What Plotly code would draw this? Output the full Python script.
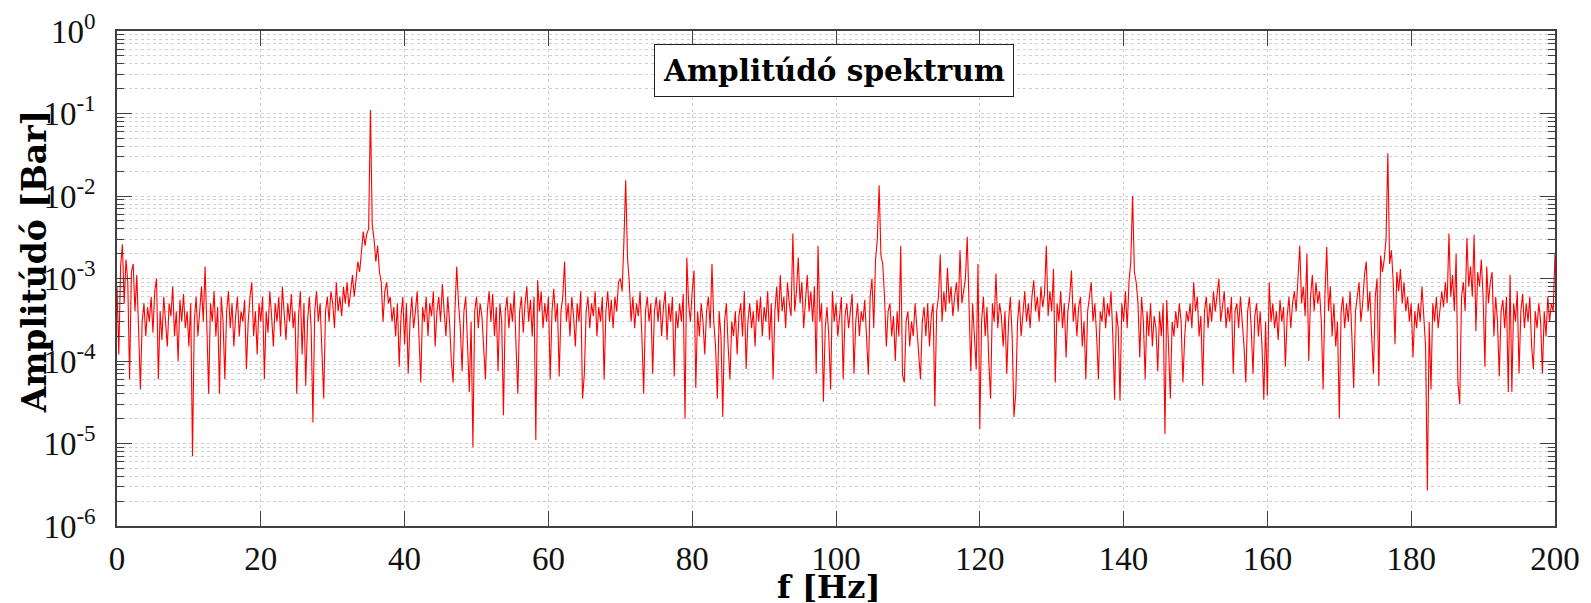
import plotly.graph_objects as go

# Amplitude spectrum [Bar], one value per 0.25 Hz bin
amp_0_50 = [
    8e-4, 1.2e-4, 14e-4, 26e-4, 5e-4, 17e-4, 9e-4, 0.6e-4, 12e-4, 15e-4, 4e-4, 11e-4, 2.5e-4, 0.45e-4, 3e-4, 5e-4, 2e-4, 4.5e-4, 3e-4, 6e-4,
    2.2e-4, 7e-4, 10e-4, 0.6e-4, 4e-4, 1.8e-4, 6e-4, 3e-4, 1.5e-4, 5e-4, 3.5e-4, 8e-4, 2e-4, 4e-4, 1e-4, 5.5e-4, 3e-4, 6.5e-4, 2.5e-4, 4e-4,
    1.5e-4, 5e-4, 0.07e-4, 3e-4, 6e-4, 2e-4, 4e-4, 8e-4, 3e-4, 14e-4, 2.5e-4, 0.4e-4, 5e-4, 3e-4, 7e-4, 2e-4, 4.5e-4, 0.4e-4, 6e-4, 3e-4,
    0.6e-4, 4e-4, 7e-4, 2.5e-4, 5e-4, 1.5e-4, 3.5e-4, 6e-4, 2e-4, 4e-4, 3e-4, 5.5e-4, 0.8e-4, 3e-4, 6e-4, 9e-4, 2e-4, 4e-4, 1.2e-4, 5e-4,
    3e-4, 6e-4, 0.6e-4, 4e-4, 2.2e-4, 7e-4, 3.5e-4, 1.5e-4, 5e-4, 3e-4, 6e-4, 2e-4, 8e-4, 4e-4, 1.8e-4, 5e-4, 3e-4, 6.5e-4, 2.5e-4, 4e-4,
    0.4e-4, 3.5e-4, 7e-4, 1.2e-4, 5e-4, 0.5e-4, 3e-4, 6e-4, 2.5e-4, 0.18e-4, 4e-4, 7e-4, 3e-4, 5e-4, 1.5e-4, 0.35e-4, 4e-4, 6e-4, 3e-4, 7e-4,
    5e-4, 2.5e-4, 9e-4, 4e-4, 6e-4, 3.5e-4, 8e-4, 5e-4, 9e-4, 4.5e-4, 7e-4, 11e-4, 6e-4, 10e-4, 16e-4, 12e-4, 20e-4, 37e-4, 25e-4, 35e-4,
    40e-4, 1100e-4, 45e-4, 30e-4, 16e-4, 25e-4, 12e-4, 9e-4, 3e-4, 7e-4, 9e-4, 5e-4, 6e-4, 3e-4, 4.5e-4, 2e-4, 5e-4, 0.85e-4, 3.5e-4, 6e-4,
    1.6e-4, 5e-4, 0.7e-4, 3e-4, 6e-4, 2.5e-4, 4e-4, 7e-4, 2e-4, 0.55e-4, 4.5e-4, 3e-4, 6e-4, 2e-4, 5e-4, 3.5e-4, 7e-4, 1.5e-4, 4e-4, 6e-4,
    3e-4, 8.5e-4, 4e-4, 2e-4, 6e-4, 3e-4, 1e-4, 0.55e-4, 4e-4, 14e-4, 5e-4, 2.5e-4, 0.75e-4, 4e-4, 6e-4, 2e-4, 0.42e-4, 3e-4, 0.09e-4, 4e-4,
]
amp_50_100 = [
    6e-4, 2.5e-4, 5e-4, 3.5e-4, 1.5e-4, 0.6e-4, 4e-4, 7e-4, 3e-4, 6.5e-4, 2e-4, 4.5e-4, 0.75e-4, 5e-4, 3e-4, 0.22e-4, 4e-4, 6e-4, 2.5e-4, 5e-4,
    3e-4, 7e-4, 1.5e-4, 0.4e-4, 4e-4, 6e-4, 2.2e-4, 5e-4, 8e-4, 3e-4, 5.5e-4, 2e-4, 6e-4, 0.11e-4, 9.5e-4, 4e-4, 7e-4, 2.5e-4, 5e-4, 3e-4,
    6e-4, 0.6e-4, 4e-4, 7.5e-4, 3e-4, 5e-4, 0.65e-4, 4e-4, 6e-4, 16e-4, 3e-4, 5e-4, 2e-4, 6e-4, 3.5e-4, 1.5e-4, 5e-4, 3e-4, 7e-4, 0.35e-4,
    0.7e-4, 4e-4, 6e-4, 2.5e-4, 5e-4, 3.5e-4, 7e-4, 2e-4, 4.5e-4, 3e-4, 6e-4, 0.6e-4, 4e-4, 7e-4, 3e-4, 5.5e-4, 2.5e-4, 6e-4, 4e-4, 9e-4,
    10e-4, 7e-4, 28e-4, 155e-4, 18e-4, 9e-4, 3e-4, 6e-4, 2.5e-4, 5e-4, 3.5e-4, 7e-4, 2e-4, 0.4e-4, 4e-4, 6e-4, 3e-4, 5e-4, 0.7e-4, 4e-4,
    6e-4, 3e-4, 5.5e-4, 2e-4, 4.5e-4, 7e-4, 1.8e-4, 5e-4, 3e-4, 6e-4, 0.65e-4, 4e-4, 2.5e-4, 5e-4, 3e-4, 6.5e-4, 0.2e-4, 18e-4, 5e-4, 3e-4,
    7e-4, 12.5e-4, 0.47e-4, 4e-4, 2e-4, 5e-4, 3e-4, 1.2e-4, 4e-4, 6e-4, 2.5e-4, 15e-4, 3e-4, 1.5e-4, 0.35e-4, 4e-4, 2e-4, 0.21e-4, 3e-4, 5e-4,
    1.5e-4, 0.6e-4, 3e-4, 2e-4, 4e-4, 1.2e-4, 3.5e-4, 5e-4, 2e-4, 7e-4, 0.8e-4, 3e-4, 5e-4, 2.5e-4, 4e-4, 1.5e-4, 5.5e-4, 3e-4, 6e-4, 2e-4,
    4.5e-4, 3e-4, 7e-4, 1.8e-4, 5e-4, 0.6e-4, 4e-4, 8e-4, 3e-4, 11e-4, 4e-4, 6e-4, 2.5e-4, 9e-4, 5e-4, 3.5e-4, 35e-4, 4e-4, 7e-4, 18e-4,
    5e-4, 9e-4, 2.5e-4, 6e-4, 11e-4, 4e-4, 7e-4, 3e-4, 8e-4, 0.7e-4, 25e-4, 3e-4, 5e-4, 0.32e-4, 2.5e-4, 4.5e-4, 2e-4, 0.45e-4, 7e-4, 3e-4,
]
amp_100_150 = [
    5e-4, 2e-4, 4e-4, 6e-4, 0.6e-4, 3.5e-4, 5e-4, 2.5e-4, 4e-4, 6.5e-4, 0.7e-4, 3e-4, 5e-4, 2e-4, 4e-4, 3e-4, 5.5e-4, 1.5e-4, 0.68e-4, 6e-4,
    10e-4, 2.5e-4, 17e-4, 30e-4, 135e-4, 19e-4, 15e-4, 6e-4, 1.5e-4, 4e-4, 5e-4, 2e-4, 3.5e-4, 1e-4, 4e-4, 2e-4, 25e-4, 0.68e-4, 0.55e-4, 3e-4,
    4e-4, 1.5e-4, 3e-4, 2e-4, 5e-4, 2.5e-4, 1.2e-4, 0.6e-4, 3e-4, 4.5e-4, 2e-4, 5e-4, 1.5e-4, 3.5e-4, 5e-4, 0.28e-4, 4e-4, 6e-4, 19.5e-4, 3e-4,
    7e-4, 4e-4, 13.5e-4, 5e-4, 8e-4, 3.5e-4, 6e-4, 9e-4, 4e-4, 22e-4, 5e-4, 7e-4, 10e-4, 32e-4, 3e-4, 0.75e-4, 5e-4, 2e-4, 0.8e-4, 15e-4,
    0.15e-4, 3e-4, 6e-4, 2e-4, 4.5e-4, 1e-4, 0.35e-4, 5e-4, 3e-4, 11.5e-4, 2.5e-4, 5e-4, 3.5e-4, 1.5e-4, 4e-4, 0.7e-4, 3e-4, 6e-4, 2e-4, 0.21e-4,
    0.4e-4, 3e-4, 5.5e-4, 2e-4, 4e-4, 7e-4, 3e-4, 5e-4, 2.5e-4, 6e-4, 9.5e-4, 4e-4, 6e-4, 3e-4, 8e-4, 4.5e-4, 6.5e-4, 25e-4, 3.5e-4, 7e-4,
    4e-4, 13e-4, 0.55e-4, 5e-4, 3e-4, 7e-4, 2.5e-4, 5e-4, 1.1e-4, 4e-4, 6e-4, 12.5e-4, 3e-4, 5e-4, 2e-4, 4.5e-4, 6e-4, 1.5e-4, 3e-4, 0.6e-4,
    4e-4, 6e-4, 9e-4, 3e-4, 5e-4, 2e-4, 0.6e-4, 4e-4, 3e-4, 6e-4, 2.5e-4, 5e-4, 3.5e-4, 7e-4, 2e-4, 0.34e-4, 4e-4, 2.5e-4, 0.33e-4, 5e-4,
    3e-4, 7e-4, 2.5e-4, 9e-4, 16e-4, 100e-4, 12e-4, 9e-4, 5e-4, 1.1e-4, 6e-4, 3e-4, 0.6e-4, 4e-4, 2e-4, 5e-4, 1.5e-4, 3.5e-4, 2.5e-4, 0.75e-4,
    4e-4, 2e-4, 5e-4, 0.13e-4, 5.5e-4, 1.5e-4, 0.35e-4, 3e-4, 2e-4, 4e-4, 2.5e-4, 5e-4, 3e-4, 0.55e-4, 2e-4, 4e-4, 3e-4, 5e-4, 2.5e-4, 9e-4,
]
amp_150_200 = [
    4e-4, 6e-4, 2e-4, 3.5e-4, 0.5e-4, 4e-4, 6e-4, 2.5e-4, 5e-4, 3e-4, 7e-4, 4e-4, 6.5e-4, 10e-4, 3e-4, 5e-4, 7e-4, 2.5e-4, 4.5e-4, 3e-4,
    6e-4, 0.7e-4, 4e-4, 5e-4, 2.5e-4, 6e-4, 3e-4, 1.5e-4, 0.55e-4, 4e-4, 6e-4, 2.5e-4, 0.7e-4, 3.5e-4, 5e-4, 2e-4, 4e-4, 1.5e-4, 0.34e-4, 3e-4,
    0.38e-4, 9e-4, 3e-4, 5e-4, 2.5e-4, 4e-4, 1.8e-4, 5.5e-4, 3e-4, 4.5e-4, 0.85e-4, 3.5e-4, 6e-4, 2.5e-4, 5e-4, 7e-4, 4e-4, 9e-4, 25e-4, 5e-4,
    8e-4, 3.5e-4, 20e-4, 1e-4, 6e-4, 11e-4, 4e-4, 9e-4, 5e-4, 7e-4, 3e-4, 0.45e-4, 6e-4, 24e-4, 4e-4, 8e-4, 2e-4, 5e-4, 1.5e-4, 3e-4,
    0.2e-4, 4e-4, 6e-4, 2.5e-4, 5e-4, 3e-4, 7e-4, 2e-4, 0.47e-4, 4e-4, 6e-4, 9e-4, 3e-4, 5e-4, 11e-4, 16e-4, 4e-4, 7e-4, 2e-4, 0.7e-4,
    6e-4, 10e-4, 0.5e-4, 19e-4, 12e-4, 17e-4, 30e-4, 330e-4, 15e-4, 22e-4, 9e-4, 1.6e-4, 12e-4, 7e-4, 13e-4, 5e-4, 9e-4, 4e-4, 6e-4, 3e-4,
    5e-4, 1.1e-4, 4e-4, 2.5e-4, 5e-4, 3e-4, 8e-4, 4e-4, 1.5e-4, 0.027e-4, 3e-4, 0.45e-4, 5e-4, 3e-4, 6e-4, 2.5e-4, 4e-4, 7e-4, 4.5e-4, 9e-4,
    5e-4, 35e-4, 6e-4, 11e-4, 4e-4, 20e-4, 0.55e-4, 0.3e-4, 6e-4, 9e-4, 4e-4, 31e-4, 8e-4, 14e-4, 6e-4, 34e-4, 2.3e-4, 12e-4, 8e-4, 17e-4,
    6e-4, 0.85e-4, 14e-4, 5e-4, 9e-4, 12e-4, 2e-4, 6e-4, 3e-4, 0.65e-4, 4e-4, 5.5e-4, 2.5e-4, 6e-4, 0.42e-4, 11e-4, 0.42e-4, 5e-4, 3e-4, 7e-4,
    0.7e-4, 4e-4, 6.5e-4, 2.5e-4, 5e-4, 3e-4, 6e-4, 1.5e-4, 0.8e-4, 4e-4, 2.5e-4, 5e-4, 3e-4, 0.7e-4, 4e-4, 2e-4, 6e-4, 3e-4, 5e-4, 4e-4,
    20e-4,
]

amp = amp_0_50 + amp_50_100 + amp_100_150 + amp_150_200
freq_step = 0.25  # Hz per bin
freq = [i * freq_step for i in range(len(amp))]

x_ticks = [0, 20, 40, 60, 80, 100, 120, 140, 160, 180, 200]
y_exps = [-6, -5, -4, -3, -2, -1, 0]
y_ticks = [10.0 ** e for e in y_exps]
y_ticktext = ["10<sup>%d</sup>" % e for e in y_exps]
y_minor = [k * 10.0 ** e for e in y_exps[:-1] for k in range(2, 10)]

title_text = "<b>Amplitúdó spektrum</b>"
x_label = "<b>f [Hz]</b>"
y_label = "<b>Amplitúdó [Bar]</b>"
top_label = "<b>t [s]</b>"

TICKFONT = "Liberation Serif"
LABFONT = "DejaVu Serif"
AXC = "#404040"
GRIDC = "#d0d0d0"

fig = go.Figure()
fig.add_trace(go.Scatter(x=freq, y=amp, mode="lines",
                         line=dict(color="#ff0000", width=1.1), showlegend=False))

# the page body adds an 8 px offset, so the figure is 8 px smaller each way
fig.update_layout(
    width=1583, height=595,
    margin=dict(l=109, r=36, t=23, b=77),
    paper_bgcolor="white", plot_bgcolor="white",
    font=dict(family=TICKFONT, color="#111111"),
    xaxis=dict(range=[0, 200], tickvals=x_ticks, ticks="inside", ticklen=15,
               tickcolor=AXC, showline=True, linecolor=AXC, linewidth=1.5,
               mirror="ticks", showgrid=True, gridcolor=GRIDC, griddash="dot",
               zeroline=False, automargin=False, ticklabelstandoff=3,
               ticklabeloverflow="allow",
               tickfont=dict(size=33, family=TICKFONT, color="#111111")),
    yaxis=dict(type="log", range=[-6, 0], tickvals=y_ticks, ticktext=y_ticktext,
               ticks="inside", ticklen=15, tickcolor=AXC, showline=True,
               linecolor=AXC, linewidth=1.5, mirror="ticks", showgrid=True,
               gridcolor=GRIDC, griddash="dot", zeroline=False, automargin=False,
               ticklabelstandoff=13, ticklabeloverflow="allow",
               tickfont=dict(size=33, family=TICKFONT, color="#111111"),
               minor=dict(tickvals=y_minor, ticks="inside", ticklen=7,
                          tickcolor=AXC, showgrid=True, gridcolor=GRIDC,
                          griddash="dot")),
    annotations=[
        dict(text=title_text, xref="paper", yref="paper", x=0.4986, y=0.921,
             xanchor="center", yanchor="middle", showarrow=False,
             font=dict(size=29.5, family=LABFONT, color="black"),
             bgcolor="white", bordercolor="#222222", borderwidth=1, borderpad=8),
        dict(text=x_label, xref="paper", yref="paper", x=0.495, y=0,
             xanchor="center", yanchor="middle", yshift=-61, showarrow=False,
             font=dict(size=32, family=LABFONT, color="black")),
        dict(text=y_label, xref="paper", yref="paper", x=0, y=0.533,
             xanchor="center", yanchor="middle", xshift=-83, textangle=-90,
             showarrow=False, font=dict(size=33, family=LABFONT, color="black")),
        dict(text=top_label, xref="paper", yref="paper", x=0.4986, y=1,
             xanchor="center", yanchor="bottom", yshift=20, showarrow=False,
             font=dict(size=33, family=LABFONT, color="black")),
    ],
)

fig.write_html("out.html")
